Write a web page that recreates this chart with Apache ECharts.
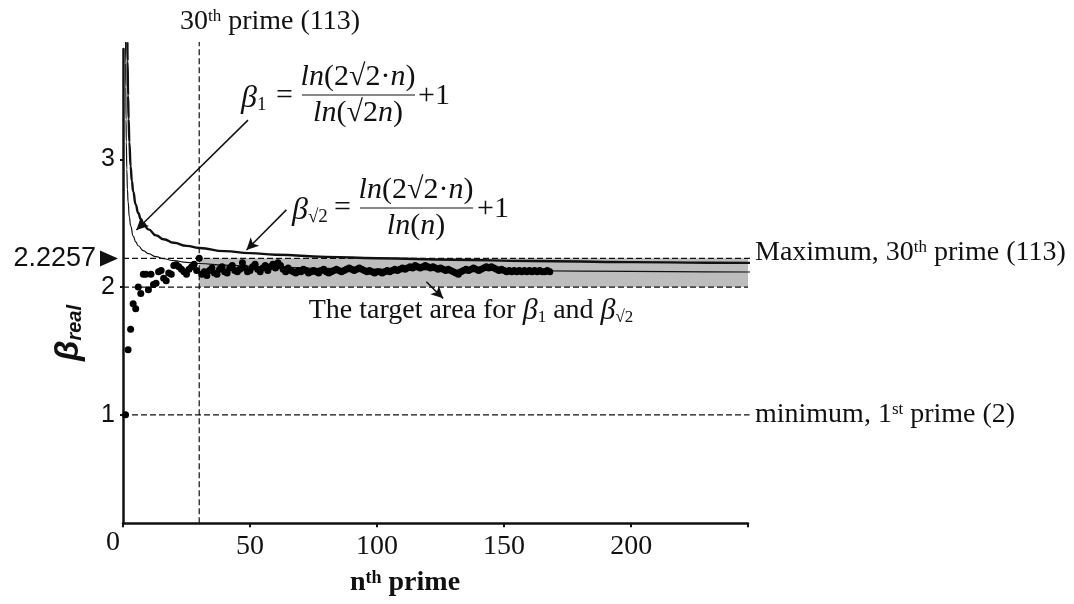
<!DOCTYPE html>
<html>
<head>
<meta charset="utf-8">
<script src="https://cdn.jsdelivr.net/npm/echarts@6/dist/echarts.min.js"></script>
<style>
  html, body { margin: 0; padding: 0; background: #fff; }
  #chart { width: 1074px; height: 604px; }
</style>
</head>
<body>
<div id="chart"></div>
<script>
'use strict';

// beta_real for the n-th prime, n = 1..168 (primes below 1000)
const betaReal = [
  1.00, 1.51, 1.67, 1.87, 1.83, 2.00, 1.95, 2.10, 2.10, 1.98,
  2.10, 2.02, 2.03, 2.12, 2.13, 2.07, 2.05, 2.11, 2.10, 2.17,
  2.175, 2.16, 2.14, 2.12, 2.10, 2.14, 2.16, 2.18, 2.13, 2.2257,
  2.10, 2.12, 2.09, 2.13, 2.15, 2.11, 2.10, 2.14, 2.16, 2.12, 2.11, 2.15, 2.17, 2.13, 2.12,
  2.14, 2.19, 2.15, 2.12, 2.13, 2.16, 2.18, 2.14, 2.12, 2.15, 2.17, 2.13, 2.16, 2.18, 2.15,
  2.19, 2.17, 2.14, 2.12, 2.15,
  2.13, 2.12, 2.11, 2.13, 2.12, 2.14, 2.13, 2.11, 2.12, 2.13, 2.12, 2.11, 2.13, 2.14, 2.12,
  2.11, 2.12, 2.13, 2.14, 2.13, 2.12, 2.13, 2.14, 2.15, 2.14, 2.13, 2.14, 2.15, 2.14, 2.13,
  2.12, 2.13, 2.12, 2.11, 2.12,
  2.12, 2.11, 2.12, 2.13, 2.12, 2.13, 2.14, 2.13, 2.14, 2.15, 2.14, 2.15,
  2.16, 2.15, 2.17, 2.16, 2.15, 2.16, 2.17, 2.16, 2.15, 2.16, 2.15, 2.14, 2.15,
  2.14, 2.13, 2.14, 2.13, 2.12, 2.11, 2.10, 2.12, 2.13, 2.14, 2.13, 2.14, 2.15, 2.14, 2.13,
  2.14, 2.15, 2.16, 2.15, 2.16, 2.15, 2.14, 2.13, 2.14, 2.13, 2.12, 2.13, 2.12, 2.13, 2.12,
  2.13, 2.12, 2.13, 2.12, 2.13, 2.12, 2.13, 2.12, 2.13, 2.12, 2.12, 2.13, 2.12
];

// beta_1 curve
const nBeta1 = [1.015, 1.05, 1.1, 1.2, 1.3, 1.5, 1.75, 2, 2.5, 3, 4, 5, 6, 8, 10, 13, 16, 20, 25, 30,
  40, 50, 60, 80, 100, 130, 160, 200, 230, 264];
const beta1 = [3.92, 3.753, 3.569, 3.310, 3.138, 2.922, 2.765, 2.667, 2.549, 2.480, 2.400, 2.354, 2.324,
  2.286, 2.262, 2.238, 2.222, 2.207, 2.194, 2.185, 2.172, 2.163, 2.156, 2.147, 2.140, 2.133, 2.128,
  2.123, 2.120, 2.117];

// beta_sqrt2 curve
const nBetaSqrt2 = [1.72, 1.8, 2, 2.2, 2.5, 3, 3.5, 4, 5, 6, 7, 8, 10, 13, 16, 20, 25, 30, 40, 50, 60,
  80, 100, 130, 160, 200, 230, 264];
const betaSqrt2 = [3.917, 3.769, 3.500, 3.319, 3.135, 2.946, 2.830, 2.750, 2.646, 2.580, 2.534, 2.500,
  2.452, 2.405, 2.375, 2.347, 2.323, 2.306, 2.282, 2.266, 2.254, 2.237, 2.226, 2.214, 2.205, 2.196,
  2.191, 2.186];

const maxBeta = 2.2257;
const targetLow = 2;
const minBeta = 1;
const maxPrimeIndex = 30;
const xTicks = [0, 50, 100, 150, 200];
const yTicks = [1, 2, 3];

const SERIF = 'Liberation Serif';
const SANS = 'Liberation Sans';
const INK = '#111';

const pairs = (xs, ys) => xs.map((x, i) => [x, ys[i]]);
const dashed = { color: INK, width: 1.2, type: [6, 3] };

const serifRich = (size) => ({
  r: { fontFamily: SERIF, fontSize: size, fill: INK },
  i: { fontFamily: SERIF, fontSize: size, fontStyle: 'italic', fill: INK },
  b: { fontFamily: SERIF, fontSize: size + 2, fontStyle: 'italic', fill: INK },
  sub: { fontFamily: SERIF, fontSize: Math.round(size * 0.62), fill: INK, verticalAlign: 'bottom', padding: [8, 0, 0, 0] },
  sup: { fontFamily: SERIF, fontSize: Math.round(size * 0.62), fill: INK, verticalAlign: 'top', padding: [0, 0, 9, 0] }
});

function txt(x, y, text, size, align) {
  return {
    type: 'text', x, y,
    style: { text, rich: serifRich(size), align: align || 'left', verticalAlign: 'middle' }
  };
}

const chart = echarts.init(document.getElementById('chart'));

chart.setOption({
  animation: false,
  backgroundColor: '#fff',
  grid: { left: 123, top: 49, width: 625, height: 474.3 },
  xAxis: {
    type: 'value', min: 0, max: 246, interval: 50,
    axisLine: { lineStyle: { color: INK, width: 2.5 } },
    axisTick: { length: 4, lineStyle: { color: INK, width: 2 } },
    axisLabel: {
      margin: 9, fontFamily: SERIF, fontSize: 28, color: INK,
      formatter: v => (v === 0 ? '' : String(v)),
      customValues: xTicks
    },
    splitLine: { show: false }
  },
  yAxis: {
    type: 'value', min: 0.15, max: 3.865,
    axisLine: { show: true, lineStyle: { color: INK, width: 2.5 } },
    axisTick: { show: true, length: 3, lineStyle: { color: INK, width: 2 }, customValues: yTicks },
    axisLabel: { margin: 8, fontFamily: SANS, fontSize: 25, color: INK, customValues: yTicks },
    splitLine: { show: false }
  },
  series: [
    {
      type: 'line', data: [[0, maxBeta], [247.8, maxBeta]], symbol: 'none', clip: false,
      lineStyle: dashed, z: 3,
      markArea: {
        silent: true,
        itemStyle: { color: '#bdbdbd' },
        data: [[{ coord: [maxPrimeIndex, targetLow] }, { coord: [246, maxBeta] }]]
      }
    },
    { type: 'line', data: [[0, targetLow], [246, targetLow]], symbol: 'none', lineStyle: dashed, z: 3 },
    { type: 'line', data: [[0, minBeta], [246.6, minBeta]], symbol: 'none', clip: false, lineStyle: dashed, z: 3 },
    { type: 'line', data: [[maxPrimeIndex, 0.15], [maxPrimeIndex, 3.92]], symbol: 'none', clip: false, lineStyle: dashed, z: 3 },
    {
      type: 'line', name: 'beta1', data: pairs(nBeta1, beta1), symbol: 'none', clip: false,
      smooth: true, smoothMonotone: 'x', lineStyle: { color: INK, width: 1.2 }, z: 4
    },
    {
      type: 'line', name: 'betaSqrt2', data: pairs(nBetaSqrt2, betaSqrt2), symbol: 'none', clip: false,
      smooth: true, smoothMonotone: 'x', lineStyle: { color: INK, width: 2.4 }, z: 4,
      markLine: {
        silent: true, symbol: ['none', 'arrow'], symbolSize: [9, 12],
        lineStyle: { color: INK, width: 1.5, type: 'solid' }, label: { show: false },
        data: [
          [{ coord: [49.2, 3.308] }, { coord: [5.27, 2.447] }],
          [{ coord: [64.3, 2.605] }, { coord: [48.6, 2.291] }],
          [{ coord: [119.4, 2.042] }, { coord: [126, 1.912] }]
        ]
      }
    },
    {
      type: 'scatter', name: 'betaReal', data: betaReal.map((v, i) => [i + 1, v]),
      symbolSize: 7, itemStyle: { color: '#000', opacity: 1 }, clip: false, z: 5
    }
  ],
  graphic: [
    txt(180, 22, '{r|30}{sup|th}{r| prime (113)}', 28),
    txt(755, 253, '{r|Maximum, 30}{sup|th}{r| prime (113)}', 28),
    txt(755, 415, '{r|minimum, 1}{sup|st}{r| prime (2)}', 28),
    txt(471, 311, '{r|The target area for }{b|β}{sub|1}{r| and }{b|β}{sub|√2}', 28, 'center'),
    txt(113, 543, '{r|0}', 28, 'center'),
    {
      type: 'text', x: 405, y: 583,
      style: {
        text: '{b|n}{s|th}{b| prime}', align: 'center', verticalAlign: 'middle',
        rich: {
          b: { fontFamily: SERIF, fontSize: 28, fontWeight: 'bold', fill: INK },
          s: { fontFamily: SERIF, fontSize: 18, fontWeight: 'bold', fill: INK, verticalAlign: 'top', padding: [0, 0, 10, 0] }
        }
      }
    },
    {
      type: 'text', x: 69, y: 333, rotation: Math.PI / 2,
      style: {
        text: '{b|β}{s|real}', align: 'center', verticalAlign: 'middle',
        rich: {
          b: { fontFamily: SANS, fontSize: 33, fontWeight: 'bold', fontStyle: 'italic', fill: INK },
          s: { fontFamily: SANS, fontSize: 20, fontWeight: 'bold', fontStyle: 'italic', fill: INK, verticalAlign: 'bottom', padding: [8, 0, 0, 0] }
        }
      }
    },
    {
      type: 'text', x: 96, y: 258.5,
      style: { text: '2.2257', font: '27px "Liberation Sans"', fill: INK, align: 'right', verticalAlign: 'middle' }
    },
    { type: 'polygon', shape: { points: [[100, 250.5], [118, 258.5], [100, 266.5]] }, style: { fill: INK } },

    // beta_1 formula
    txt(241, 99, '{b|β}{sub|1}', 30),
    txt(276, 96, '{r|=}', 30),
    txt(358, 77, '{i|ln}{r|(2√2·}{i|n}{r|)}', 30, 'center'),
    { type: 'line', shape: { x1: 302, y1: 95, x2: 415, y2: 95 }, style: { stroke: INK, lineWidth: 1 } },
    txt(358, 113, '{i|ln}{r|(√2}{i|n}{r|)}', 30, 'center'),
    txt(418, 96, '{r|+1}', 30),

    // beta_sqrt2 formula
    txt(292, 211, '{b|β}{sub|√2}', 30),
    txt(334, 208, '{r|=}', 30),
    txt(416, 190, '{i|ln}{r|(2√2·}{i|n}{r|)}', 30, 'center'),
    { type: 'line', shape: { x1: 360, y1: 208, x2: 473, y2: 208 }, style: { stroke: INK, lineWidth: 1 } },
    txt(416, 226, '{i|ln}{r|(}{i|n}{r|)}', 30, 'center'),
    txt(477, 209, '{r|+1}', 30)
  ]
});
</script>
</body>
</html>
